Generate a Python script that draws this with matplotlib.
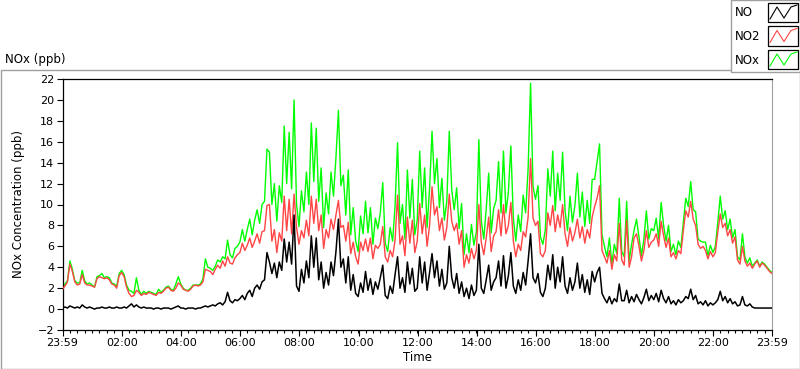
# NOx concentration over one day (NO, NO2, NOx), LabVIEW style chart

import numpy as np
import matplotlib
matplotlib.use('Agg')
import matplotlib.pyplot as plt
from matplotlib.lines import Line2D
from matplotlib.patches import Rectangle

# 5 minute readings starting at 23:59, one row per hour
no_ppb = [
    0.1, 0.2, 0.1, 0.3, 0.2, 0.1, 0.2, 0.1, 0.4, 0.2, 0.1, 0.2,
    0.1, 0.0, 0.1, 0.1, 0.2, 0.1, 0.1, 0.2, 0.1, 0.1, 0.2, 0.1,
    0.1, 0.2, 0.1, 0.3, 0.5, 0.2, 0.4, 0.2, 0.1, 0.2, 0.1, 0.1,
    0.1, 0.0, 0.1, 0.1, 0.0, 0.1, 0.1, 0.1, 0.0, 0.1, 0.2, 0.3,
    0.1, 0.1, 0.0, 0.1, 0.1, 0.1, 0.0, 0.1, 0.1, 0.2, 0.3, 0.2,
    0.3, 0.4, 0.3, 0.5, 0.6, 0.4, 0.7, 1.6, 0.8, 0.6, 0.9, 0.8,
    1.0, 1.3, 0.9, 1.5, 1.8, 1.2, 2.0, 2.3, 1.9, 2.6, 2.8, 5.4,
    4.5, 3.4, 4.4, 3.0, 4.5, 3.7, 6.7, 4.5, 6.4, 4.3, 9.0, 2.2,
    1.7, 3.8, 2.5, 4.6, 3.0, 7.0, 4.0, 6.8, 2.8, 4.5, 2.0, 3.5,
    2.3, 4.5, 3.2, 5.5, 8.6, 4.0, 4.8, 2.5, 5.0, 1.8, 3.3, 1.5,
    1.2, 2.5, 1.6, 3.6, 1.8, 2.9, 1.4, 2.6, 1.9, 3.0, 4.2, 1.3,
    1.0, 2.2, 1.5, 3.3, 5.0, 2.0, 3.0, 1.6, 4.5, 2.4, 3.9, 1.7,
    2.0, 5.0, 2.5, 4.5, 1.8, 3.5, 5.3, 3.0, 4.6, 2.2, 3.8, 1.9,
    2.5, 6.0, 3.0, 2.0, 3.4, 1.5, 2.6, 1.2, 2.0, 1.0, 2.3, 1.3,
    1.8, 6.2, 2.0, 1.5, 2.8, 4.2, 1.8, 2.6, 3.0, 4.6, 2.2, 5.1,
    2.0, 3.2, 5.4, 2.2, 1.5, 2.8, 1.8, 3.5, 2.3, 4.6, 7.2, 3.0,
    2.5, 3.4, 1.6, 1.2, 2.0, 4.2, 2.8, 5.2, 2.0, 4.0, 2.6, 5.0,
    2.2, 1.5, 3.0, 1.8, 2.6, 4.4, 2.0, 3.3, 1.6, 2.8, 1.4, 3.6,
    2.6, 3.5, 4.0, 1.5, 1.0, 0.6, 1.2, 0.5, 1.0, 0.7, 2.4, 0.8,
    0.8, 1.8, 0.6, 1.2, 0.7, 1.4, 0.9, 0.5, 1.1, 1.9, 0.8, 1.3,
    0.9, 1.5, 0.7, 1.8, 1.0, 0.6, 1.2, 0.5, 0.8, 0.4, 0.9, 0.6,
    0.8, 1.2, 1.0, 1.9, 0.9, 1.3, 0.5, 0.7, 0.4, 0.8, 0.3, 0.6,
    0.4, 0.6, 0.9, 1.7, 0.8, 1.2, 0.6, 1.0, 0.5, 0.7, 0.3, 0.4,
    1.2, 0.4, 0.3, 0.5, 0.2, 0.1, 0.1, 0.1, 0.1, 0.1, 0.1, 0.1,
    0.1,
]

no2_ppb = [
    1.9, 2.2, 2.6, 4.3, 3.6, 2.6, 2.3, 2.4, 3.3, 2.5, 2.3, 2.3,
    2.2, 2.1, 2.9, 3.1, 3.0, 2.9, 3.0, 2.8, 2.4, 2.3, 2.0, 3.2,
    3.5, 3.1, 2.1, 1.5, 1.2, 1.3, 1.8, 1.6, 1.3, 1.5, 1.4, 1.6,
    1.5, 1.4, 1.3, 1.6, 1.5, 1.7, 2.0, 2.1, 1.8, 1.7, 2.0, 2.5,
    2.3, 1.9, 1.8, 1.7, 1.9, 2.2, 2.3, 2.2, 2.3, 2.6, 3.8, 3.7,
    3.6, 3.3, 3.8, 4.2, 3.9, 4.6, 4.1, 5.0, 4.4, 4.3, 4.9, 5.2,
    5.4, 6.3, 5.6, 6.1, 6.8, 5.9, 6.5, 7.2, 6.3, 7.4, 7.5, 9.9,
    10.0, 6.5, 7.6, 5.4, 7.3, 6.5, 10.8, 7.5, 10.5, 7.2, 11.0, 7.8,
    6.2, 7.5, 6.8, 8.5, 7.0, 10.8, 8.2, 10.5, 7.5, 9.0, 5.8, 7.6,
    6.8, 8.6, 7.6, 9.0, 10.4, 7.8, 8.0, 6.5, 8.3, 5.3, 6.4, 5.0,
    4.3, 6.4, 5.6, 6.7, 5.5, 6.8, 4.8, 6.1, 5.8, 6.2, 7.9, 5.0,
    4.5, 5.6, 5.0, 6.6, 10.9, 6.2, 7.0, 5.1, 8.8, 6.3, 8.5, 5.4,
    6.5, 10.1, 7.2, 9.0, 6.0, 8.0, 11.7, 9.0, 9.8, 7.5, 8.7, 6.6,
    7.8, 11.0, 8.4, 7.5, 8.2, 6.2, 7.5, 4.0, 5.2, 4.4, 5.8, 4.8,
    5.6, 10.0, 6.4, 5.2, 6.8, 8.8, 5.5, 7.0, 7.4, 9.5, 7.0, 10.0,
    7.2, 8.0, 10.2, 6.5, 5.0, 6.2, 5.6, 7.4, 6.9, 8.8, 14.4, 8.7,
    8.0, 8.4, 5.3, 5.0, 5.6, 9.2, 8.0, 9.9, 7.4, 9.0, 7.8, 10.0,
    7.2, 6.0, 7.8, 6.5, 7.3, 8.6, 6.8, 7.9, 6.3, 7.6, 6.8, 8.8,
    9.8, 10.6, 11.8, 5.6, 5.0, 4.4, 5.6, 3.8, 5.2, 4.6, 8.2, 4.7,
    4.2, 8.5, 4.0, 5.0, 6.8, 7.2, 6.0, 4.6, 5.6, 7.5, 5.9, 6.4,
    6.6, 7.2, 6.0, 8.4, 7.0, 5.9, 6.8, 5.0, 5.4, 4.8, 5.6, 5.3,
    7.5, 9.4, 8.8, 10.3, 8.6, 8.0, 6.2, 5.8, 6.0, 5.6, 4.8, 5.5,
    5.0, 5.4, 7.4, 9.1, 7.8, 8.2, 7.0, 7.6, 6.3, 6.9, 4.7, 4.3,
    6.0, 4.6, 4.1, 4.4, 3.9, 4.3, 4.6, 4.0, 4.4, 4.2, 3.9, 3.6,
    3.4,
]

nox_ppb = [
    2.0, 2.4, 2.7, 4.6, 3.8, 2.7, 2.5, 2.5, 3.7, 2.7, 2.4, 2.5,
    2.3, 2.1, 3.1, 3.2, 3.4, 3.0, 3.1, 3.0, 2.5, 2.4, 2.2, 3.4,
    3.7, 3.3, 2.3, 1.8, 1.7, 1.5, 3.0, 1.8, 1.4, 1.7, 1.5, 1.7,
    1.6, 1.5, 1.4, 1.9, 1.6, 1.8, 2.1, 2.2, 1.9, 1.8, 2.4, 3.1,
    2.4, 2.0, 1.8, 1.8, 2.0, 2.3, 2.3, 2.3, 2.4, 2.9, 4.8, 4.0,
    3.9, 3.7, 4.1, 4.7, 4.5, 5.0, 4.8, 6.6, 5.2, 4.9, 5.8, 6.0,
    6.4, 7.6, 6.5, 7.6, 8.6, 7.1, 8.5, 9.5, 8.2, 10.0, 10.3, 15.3,
    15.0, 10.0, 12.0, 8.4, 11.8, 10.2, 17.5, 12.0, 16.9, 11.5, 20.0, 10.0,
    7.9, 11.3, 9.3, 13.1, 10.0, 17.8, 12.2, 17.3, 10.3, 13.5, 7.8, 11.1,
    9.1, 13.1, 10.8, 14.5, 19.0, 11.8, 12.8, 9.0, 13.3, 7.1, 9.7, 6.5,
    5.5, 8.9, 7.2, 10.3, 7.3, 9.7, 6.2, 8.7, 7.7, 9.2, 12.1, 6.3,
    5.5, 7.8, 6.5, 9.9, 15.9, 8.2, 10.0, 6.7, 13.3, 8.7, 12.4, 7.1,
    8.5, 15.1, 9.7, 13.5, 7.8, 11.5, 17.0, 12.0, 14.4, 9.7, 12.5, 8.5,
    10.3, 17.0, 11.4, 9.5, 11.6, 7.7, 10.1, 5.2, 7.2, 5.4, 8.1, 6.1,
    7.4, 16.2, 8.4, 6.7, 9.6, 13.0, 7.3, 9.6, 10.4, 14.1, 9.2, 15.1,
    9.2, 11.2, 15.6, 8.7, 6.5, 9.0, 7.4, 10.9, 9.2, 13.4, 21.6, 11.7,
    10.5, 11.8, 6.9, 6.2, 7.6, 13.4, 10.8, 15.1, 9.4, 13.0, 10.4, 15.0,
    9.4, 7.5, 10.8, 8.3, 9.9, 13.0, 8.8, 11.2, 7.9, 10.4, 8.2, 12.4,
    12.4, 14.1, 15.8, 7.1, 6.0, 5.0, 6.8, 4.3, 6.2, 5.3, 10.6, 5.5,
    5.0, 10.3, 4.6, 6.2, 7.5, 8.6, 6.9, 5.1, 6.7, 9.4, 6.7, 7.7,
    7.5, 8.7, 6.7, 10.2, 8.0, 6.5, 8.0, 5.5, 6.2, 5.2, 6.5, 5.9,
    8.3, 10.6, 9.8, 12.2, 9.5, 9.3, 6.7, 6.5, 6.4, 6.4, 5.1, 6.1,
    5.4, 6.0, 8.3, 10.8, 8.6, 9.4, 7.6, 8.6, 6.8, 7.6, 5.0, 4.7,
    7.2, 5.0, 4.4, 4.9, 4.1, 4.4, 4.7, 4.1, 4.5, 4.3, 4.0, 3.7,
    3.5,
]

# minutes after 23:59
minutes = np.arange(0, 5 * len(no_ppb), 5)

tick_minutes = [0, 121, 241, 361, 481, 601, 721, 841, 961, 1081, 1201, 1321, 1440]
tick_labels = ['23:59', '02:00', '04:00', '06:00', '08:00', '10:00', '12:00',
               '14:00', '16:00', '18:00', '20:00', '22:00', '23:59']

W, H = 800, 369
GREEN = '#00ff00'
RED = '#ff4545'
GRAY = '#a0a0a0'


def fx(x):
    return x / W


def fy(y):
    return 1 - y / H


def main():
    plt.rcParams['font.family'] = ['DejaVu Sans']
    fig = plt.figure(figsize=(W / 100, H / 100), dpi=100)
    fig.patch.set_facecolor('white')

    # plot area: x 62..772 px, y 79..330 px
    ax = fig.add_axes([fx(62.5), fy(330), fx(772) - fx(62.5), fy(79) - fy(330)])

    ax.plot(minutes, nox_ppb, color=GREEN, lw=1.0, zorder=2)
    ax.plot(minutes, no2_ppb, color=RED, lw=1.0, zorder=3)
    ax.plot(minutes, no_ppb, color='black', lw=1.1, zorder=4)

    ax.set_xlim(0, 1440)
    ax.set_ylim(-2, 22)
    ax.set_yticks(np.arange(-2, 23, 2))
    ax.set_xticks(tick_minutes)
    ax.set_xticklabels(tick_labels)
    ax.set_xticks(np.arange(0, 1441, 15), minor=True)

    ax.tick_params(axis='both', which='major', labelsize=8, length=4,
                   width=0.8, direction='out', pad=2)
    ax.tick_params(axis='x', which='minor', length=2.5, width=0.8)
    ax.spines['right'].set_color(GRAY)
    for side in ['left', 'top', 'bottom']:
        ax.spines[side].set_linewidth(0.9)

    ax.set_xlabel('Time', fontsize=8.5, labelpad=2)
    ax.set_ylabel('NOx Concentration (ppb)', fontsize=8.5, labelpad=9)

    # outer frame of the chart
    frame = [(fx(730), fy(69.5)), (fx(0.5), fy(69.5)), (fx(0.5), fy(368.5)),
             (fx(799.5), fy(368.5)), (fx(799.5), fy(71.5))]
    fig.add_artist(Line2D([p[0] for p in frame], [p[1] for p in frame],
                          color=GRAY, lw=1.0))
    fig.text(fx(5), fy(59), 'NOx (ppb)', fontsize=8.5, va='center', ha='left')

    # legend box at top right
    fig.add_artist(Rectangle((fx(730.5), fy(71.5)), fx(799.5) - fx(730.5),
                             fy(0) - fy(71.5), transform=fig.transFigure,
                             facecolor='white', edgecolor=GRAY, lw=1.0))
    names = ['NO', 'NO2', 'NOx']
    colors = ['black', RED, GREEN]
    for i, (name, col) in enumerate(zip(names, colors)):
        top = 3 + i * 23.5
        fig.text(fx(735), fy(top + 10), name, fontsize=8.5, va='center', ha='left')
        fig.add_artist(Rectangle((fx(768), fy(top + 19)), fx(798) - fx(768),
                                 fy(top) - fy(top + 19), transform=fig.transFigure,
                                 facecolor='white', edgecolor='black', lw=0.9))
        zx = [770, 777, 784, 791, 797]
        zy = [top + 16, top + 4, top + 15, top + 4, top + 2]
        fig.add_artist(Line2D([fx(v) for v in zx], [fy(v) for v in zy],
                              color=col, lw=0.8))

    fig.savefig('out.png', dpi=100)


if __name__ == '__main__':
    main()
